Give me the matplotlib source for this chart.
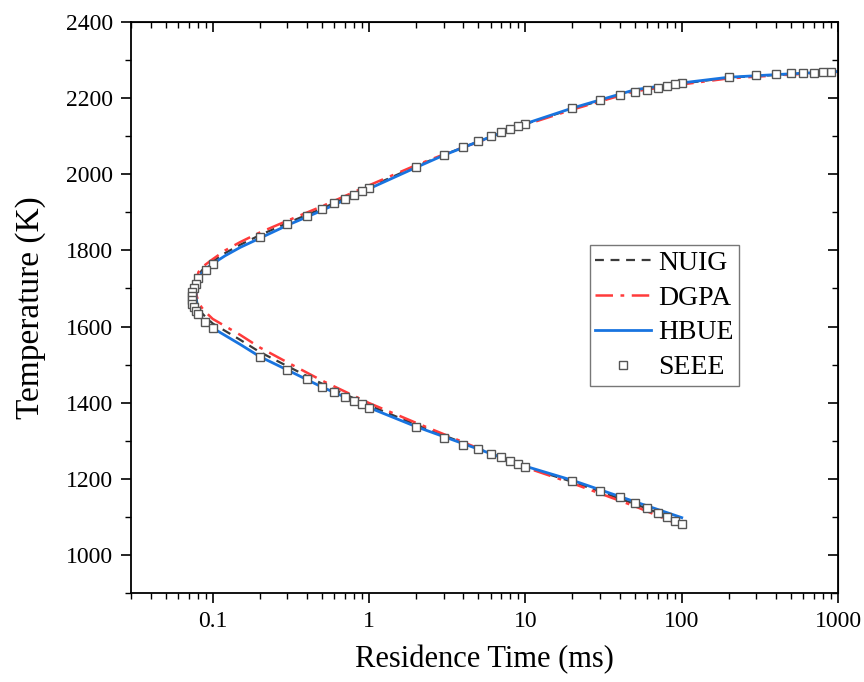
import matplotlib
matplotlib.use("Agg")
import matplotlib.pyplot as plt
from matplotlib.ticker import LogLocator, FixedLocator, MultipleLocator, FuncFormatter, NullFormatter

plt.rcParams['font.family'] = ['Liberation Serif', 'DejaVu Serif']

# model curves (upper branch -> turning point -> lower branch)
t_line = [1000, 500, 200, 100, 50, 20, 10, 5, 3, 2, 1, 0.5, 0.3, 0.2, 0.15, 0.12, 0.1, 0.09,
          0.085, 0.081, 0.079, 0.078, 0.079, 0.081, 0.085, 0.09, 0.1, 0.15, 0.2, 0.3, 0.5,
          1, 2, 5, 10, 20, 50, 100]
T_nuig = [2270, 2263, 2254, 2238, 2220, 2172, 2132, 2086, 2051, 2021, 1966, 1910, 1872, 1840,
          1815, 1793, 1771, 1757, 1747, 1734, 1713, 1690, 1668, 1651, 1636, 1625, 1608, 1565,
          1533, 1496, 1450, 1393, 1342, 1279, 1231, 1192, 1134, 1087]
T_dgpa = [2269, 2262, 2252, 2236, 2218, 2170, 2130, 2085, 2052, 2024, 1971, 1916, 1878, 1847,
          1822, 1800, 1777, 1763, 1753, 1743, 1722, 1700, 1680, 1665, 1650, 1638, 1620, 1578,
          1545, 1506, 1458, 1399, 1347, 1280, 1230, 1188, 1128, 1077]
T_hbue = [2270, 2264, 2255, 2240, 2222, 2174, 2133, 2086, 2050, 2018, 1962, 1905, 1866, 1832,
          1808, 1786, 1765, 1751, 1740, 1725, 1705, 1680, 1655, 1637, 1622, 1612, 1596, 1553,
          1521, 1486, 1441, 1387, 1337, 1278, 1233, 1196, 1140, 1098]

# SEEE points
t_seee = [900, 800, 700, 600, 500, 400, 300, 200, 100, 90, 80, 70, 60, 50, 40, 30, 20,
          10, 9, 8, 7, 6, 5, 4, 3, 2, 1, 0.9, 0.8, 0.7, 0.6, 0.5, 0.4, 0.3, 0.2, 0.1, 0.09, 0.08,
          0.078, 0.076, 0.074, 0.0737, 0.0737, 0.074, 0.076, 0.078, 0.081, 0.089,
          0.1, 0.2, 0.3, 0.4, 0.5, 0.6, 0.7, 0.8, 0.9, 1, 2, 3, 4, 5, 6, 7, 8, 9, 10,
          20, 30, 40, 50, 60, 70, 80, 90, 100]
T_seee = [2269, 2269, 2266, 2266, 2266, 2264, 2261, 2256, 2240, 2237, 2232, 2227, 2222, 2216,
          2208, 2195, 2174, 2133, 2127, 2119, 2111, 2101, 2088, 2072, 2051, 2019, 1964, 1956,
          1946, 1935, 1925, 1909, 1891, 1870, 1836, 1764, 1749, 1728,
          1712, 1701, 1691, 1680, 1670, 1659, 1651, 1641, 1633, 1612,
          1597, 1521, 1486, 1462, 1442, 1427, 1416, 1405, 1397, 1387, 1337, 1308, 1290, 1277,
          1265, 1256, 1248, 1240, 1232, 1194, 1169, 1152, 1136, 1122, 1111, 1099, 1090, 1081]

fig = plt.figure(figsize=(8.64, 6.82), dpi=100)
ax = fig.add_axes([0.1516, 0.1305, 0.8184, 0.8372])

ax.plot(t_line, T_nuig, color="#3a3a3a", ls=(0, (4, 3)), lw=1.6, label="NUIG")
ax.plot(t_line, T_dgpa, color="#ff3b3b", ls=(0, (7, 3, 1.5, 3)), lw=1.8, label="DGPA")
ax.plot(t_line, T_hbue, color="#1874e0", ls="-", lw=2.0, label="HBUE")
ax.plot(t_seee, T_seee, ls="none", marker="s", ms=6, mfc="white", mec="#555555",
        mew=1.0, label="SEEE")

ax.set_xscale("log")
ax.set_xlim(0.03, 1000)
ax.set_ylim(900, 2400)

ax.xaxis.set_major_locator(FixedLocator([0.1, 1, 10, 100, 1000]))
ax.xaxis.set_major_formatter(FuncFormatter(lambda v, p: f"{v:g}"))
ax.xaxis.set_minor_locator(LogLocator(base=10, subs=range(2, 10), numticks=20))
ax.xaxis.set_minor_formatter(NullFormatter())
ax.yaxis.set_major_locator(MultipleLocator(200))
ax.yaxis.set_minor_locator(MultipleLocator(100))

ax.tick_params(which="major", direction="out", length=7, width=1.2, labelsize=17, pad=6)
ax.tick_params(which="minor", direction="out", length=4, width=1.0)
for s in ax.spines.values():
    s.set_linewidth(1.3)

# inward ticks on top and right
top = ax.secondary_xaxis("top")
top.set_xscale("log")
top.xaxis.set_major_locator(FixedLocator([0.1, 1, 10, 100, 1000]))
top.xaxis.set_minor_locator(LogLocator(base=10, subs=range(2, 10), numticks=20))
top.tick_params(which="both", direction="in", labeltop=False)
top.tick_params(which="major", length=7, width=1.2)
top.tick_params(which="minor", length=4, width=1.0)
top.xaxis.set_minor_formatter(NullFormatter())

right = ax.secondary_yaxis("right")
right.yaxis.set_major_locator(MultipleLocator(200))
right.yaxis.set_minor_locator(MultipleLocator(100))
right.tick_params(which="both", direction="in", labelright=False)
right.tick_params(which="major", length=7, width=1.2)
right.tick_params(which="minor", length=4, width=1.0)

ax.set_xlabel("Residence Time (ms)", fontsize=22, labelpad=9)
ax.set_ylabel("Temperature (K)", fontsize=24, labelpad=14)

leg = ax.legend(loc="upper left", bbox_to_anchor=(0.649, 0.61), fontsize=20, frameon=True,
                fancybox=False, edgecolor="#555555", handlelength=2.0, handletextpad=0.25,
                borderpad=0.2, labelspacing=0.34, borderaxespad=0)
leg.get_frame().set_linewidth(1.0)

fig.savefig("out.png", dpi=100)
